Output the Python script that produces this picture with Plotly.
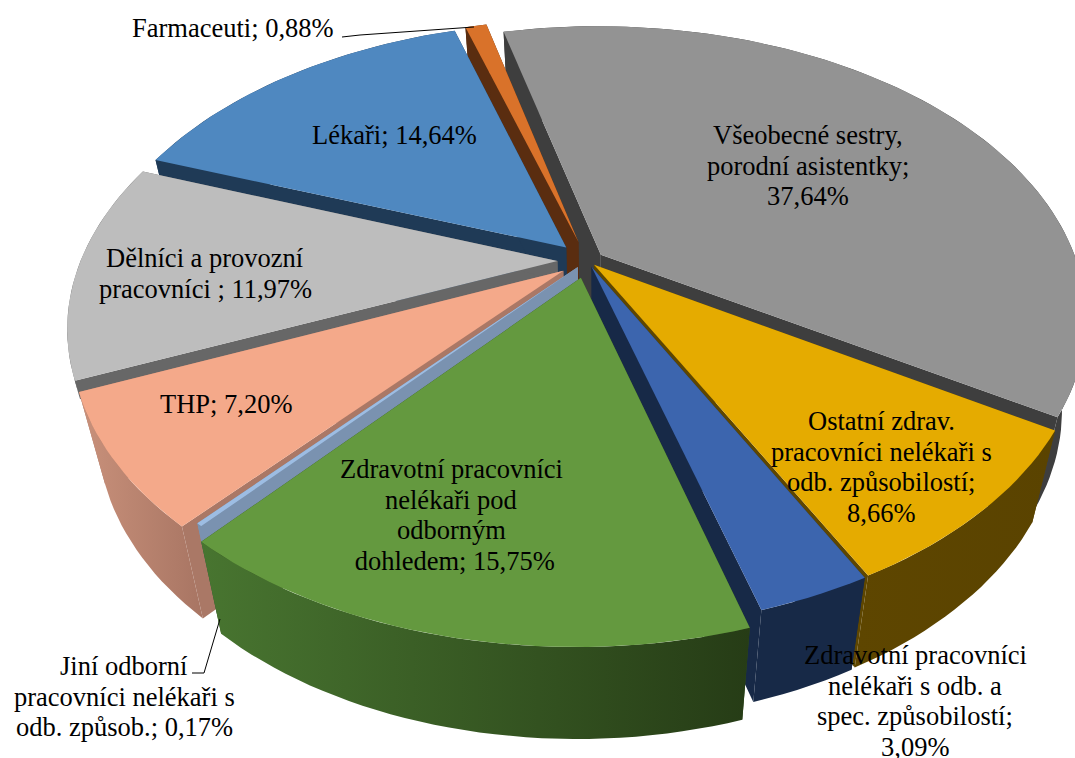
import math
import plotly.graph_objects as go

categories = ["Všeobecné sestry, porodní asistentky", "Ostatní zdrav. pracovníci nelékaři s odb. způsobilostí",
              "Zdravotní pracovníci nelékaři s odb. a spec. způsobilostí", "Zdravotní pracovníci nelékaři pod odborným dohledem",
              "Jiní odborní pracovníci nelékaři s odb. způsob.", "THP", "Dělníci a provozní pracovníci", "Lékaři", "Farmaceuti"]
values = [37.64, 8.66, 3.09, 15.75, 0.17, 7.20, 11.97, 14.64, 0.88]
top_colors = ["#939393", "#E5AB00", "#3C65AE", "#64993F", "#9DBDE3", "#F4A98A", "#BDBDBD", "#4F88C0", "#D9722A"]
radial_colors = ["#3E3E3E", "#5E4600", "#172947", "#2F4D1E", "#7A92B0", "#AA7866", "#676767", "#1F3A56", "#5A2D10"]
wall_left = ["#3E3E3E", "#5E4600", "#172947", "#487530", "#7A92B0", "#C9917B", "#676767", "#1F3A56", "#5A2D10"]
wall_right = ["#3E3E3E", "#5A4300", "#172947", "#263C16", "#7A92B0", "#A87563", "#676767", "#1F3A56", "#5A2D10"]
draw_order = [0, 1, 2, 8, 7, 6, 5, 4, 3]
explode = [0.034, 0.020, 0.023, 0.060, 0.029, 0.059, 0.060, 0.062, 0.067]
radius = [0.961, 0.963, 0.961, 0.961, 0.961, 0.954, 0.957, 0.956, 0.954]
depth_share = [1, 1, 1, 1, 1, 1, 0.2, 1, 1]

labels = [
    (["Všeobecné sestry,", "porodní asistentky;", "37,64%"], 808, 135),
    (["Ostatní zdrav.", "pracovníci nelékaři s", "odb. způsobilostí;", "8,66%"], 881, 421),
    (["Zdravotní pracovníci", "nelékaři s odb. a", "spec. způsobilostí;", "3,09%"], 915, 655),
    (["Zdravotní pracovníci", "nelékaři pod", "odborným", " dohledem; 15,75%"], 451, 469),
    (["Jiní odborní", "pracovníci nelékaři s", "odb. způsob.; 0,17%"], 124, 666),
    (["THP; 7,20%"], 226, 404),
    (["Dělníci a provozní", "pracovníci ; 11,97%"], 205, 258),
    (["Lékaři; 14,64%"], 394, 135),
    (["Farmaceuti; 0,88%"], 233, 28),
]
LINE_GAP = 30.7

START, CX, CY, A, B, P, SX, SY = -14.8565, 587.2559, 260.4988, 496.4842, 291.6585, 0.2260, 7.6188, 3.8902
DEPTH, SHRINK, VX = 92, 0.05, 600


def top(X, Y):
    w = 1 + P * Y
    return CX + (A * X + SX * Y) / w, CY + (-B * Y + SY * X) / w


def bottom(pt, share=1):
    return pt[0] - share * SHRINK * (pt[0] - VX), pt[1] + share * DEPTH


def polar(theta, r):
    t = math.radians(theta)
    return r * math.sin(t), r * math.cos(t)


fig = go.Figure()
spans, acc = [], START
for v in values:
    spans.append((acc, acc + v * 3.6))
    acc += v * 3.6


def poly(pts, **kw):
    fig.add_trace(go.Scatter(x=[p[0] for p in pts] + [pts[0][0]], y=[p[1] for p in pts] + [pts[0][1]],
                             mode="lines", fill="toself", line=dict(width=0), hoverinfo="skip",
                             showlegend=False, **kw))


for i in draw_order:
    a, b = spans[i]
    ox, oy = polar((a + b) / 2, explode[i])
    apex = top(ox, oy)
    n = max(4, int((b - a) / 1.5))
    arc = []
    for k in range(n + 1):
        px, py = polar(a + (b - a) * k / n, radius[i])
        arc.append(top(ox + px, oy + py))
    s = depth_share[i]
    low = [bottom(p, s) for p in arc]
    poly([apex, arc[0], low[0], bottom(apex, s)], fillcolor=radial_colors[i])
    poly([apex, arc[-1], low[-1], bottom(apex, s)], fillcolor=radial_colors[i])
    poly(arc + low[::-1], fillcolor=wall_left[i],
         fillgradient=dict(type="horizontal", colorscale=[[0, wall_left[i]], [1, wall_right[i]]]))
    poly([apex] + arc, fillcolor=top_colors[i])

for xs, ys in [([342, 360, 474], [37, 35, 27]), ([192, 204, 220], [673, 673, 619])]:
    fig.add_trace(go.Scatter(x=xs, y=ys, mode="lines", line=dict(color="black", width=1),
                             hoverinfo="skip", showlegend=False))

ann = []
for lines, x, y0 in labels:
    for j, line in enumerate(lines):
        ann.append(dict(x=x, y=y0 + j * LINE_GAP, text=line, showarrow=False, xanchor="center", yanchor="middle",
                        align="center", font=dict(family="Liberation Serif", size=26.5, color="black")))
fig.update_layout(width=1075, height=758, margin=dict(l=0, r=0, t=0, b=0), paper_bgcolor="white",
                  plot_bgcolor="white", annotations=ann,
                  xaxis=dict(range=[0, 1075], visible=False, fixedrange=True),
                  yaxis=dict(range=[758, 0], visible=False, fixedrange=True))
fig.write_html("out.html", config={"displayModeBar": False},
               post_script="document.body.style.margin='0';document.body.style.overflow='hidden';")
